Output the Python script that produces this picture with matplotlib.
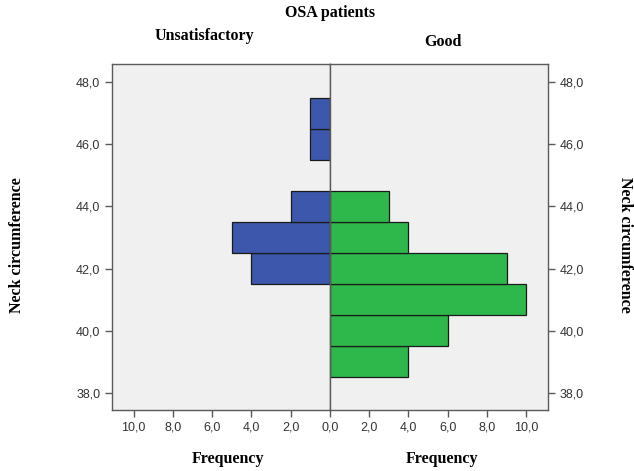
import numpy as np
import matplotlib
matplotlib.use("Agg")
from matplotlib import pyplot as plt
from matplotlib.ticker import FuncFormatter

''' Neck circumference bins (centres, width 1) and frequencies per group.'''

bins = [39, 40, 41, 42, 43, 44, 45, 46, 47]
unsatisfactory = [0, 0, 0, 4, 5, 2, 0, 1, 1]
good = [4, 6, 10, 9, 4, 3, 0, 0, 0]

xticks = [0, 2, 4, 6, 8, 10]
yticks = [38, 40, 42, 44, 46, 48]

blue = '#3d57ac'
green = '#2eb84b'
edge = '#1a1a1a'
bg = '#f0f0f0'
spine = '#5a5a5a'

plt.rcParams['font.family'] = ['Liberation Sans', 'DejaVu Sans']

comma = FuncFormatter(lambda v, p: ('%.1f' % v).replace('.', ','))

fig = plt.figure(figsize=(6.34, 4.71), dpi=100)
axl = fig.add_axes([0.1767, 0.1295, 0.5205 - 0.1767, 0.7345])
axr = fig.add_axes([0.5205, 0.1295, 0.864 - 0.5205, 0.7345])

''' Left panel: unsatisfactory, bars grow to the left.'''

b = np.array(bins)
u = np.array(unsatisfactory)
g = np.array(good)
axl.barh(b[u > 0], u[u > 0], height=1.0, color=blue, edgecolor=edge, linewidth=0.9)
axr.barh(b[g > 0], g[g > 0], height=1.0, color=green, edgecolor=edge, linewidth=0.9)

for ax in (axl, axr):
    ax.set_facecolor(bg)
    ax.set_xlim(0, 11.1)
    ax.set_ylim(37.45, 48.58)
    ax.set_xticks(xticks)
    ax.set_yticks(yticks)
    ax.xaxis.set_major_formatter(comma)
    ax.yaxis.set_major_formatter(comma)
    ax.tick_params(direction='out', length=5, width=1, colors=spine,
                   labelcolor='#333333', labelsize=9)
    for s in ax.spines.values():
        s.set_color(spine)
        s.set_linewidth(1)

axl.invert_xaxis()
axr.yaxis.tick_right()
axr.set_xticks(xticks[1:])

serif = ['Liberation Serif', 'DejaVu Serif']
fs = 11.5
fig.text(0.5205, 0.972, 'OSA patients', ha='center', va='center', fontsize=fs,
         fontweight='bold', family=serif)
fig.text(0.323, 0.923, 'Unsatisfactory', ha='center', va='center', fontsize=fs,
         fontweight='bold', family=serif)
fig.text(0.699, 0.911, 'Good', ha='center', va='center', fontsize=fs,
         fontweight='bold', family=serif)
fig.text(0.36, 0.025, 'Frequency', ha='center', va='center', fontsize=fs,
         fontweight='bold', family=serif)
fig.text(0.697, 0.025, 'Frequency', ha='center', va='center', fontsize=fs,
         fontweight='bold', family=serif)
fig.text(0.027, 0.48, 'Neck circumference', ha='center', va='center', fontsize=fs,
         fontweight='bold', family=serif, rotation=90)
fig.text(0.986, 0.48, 'Neck circumference', ha='center', va='center', fontsize=fs,
         fontweight='bold', family=serif, rotation=-90)

plt.savefig('out.png', dpi=100)
